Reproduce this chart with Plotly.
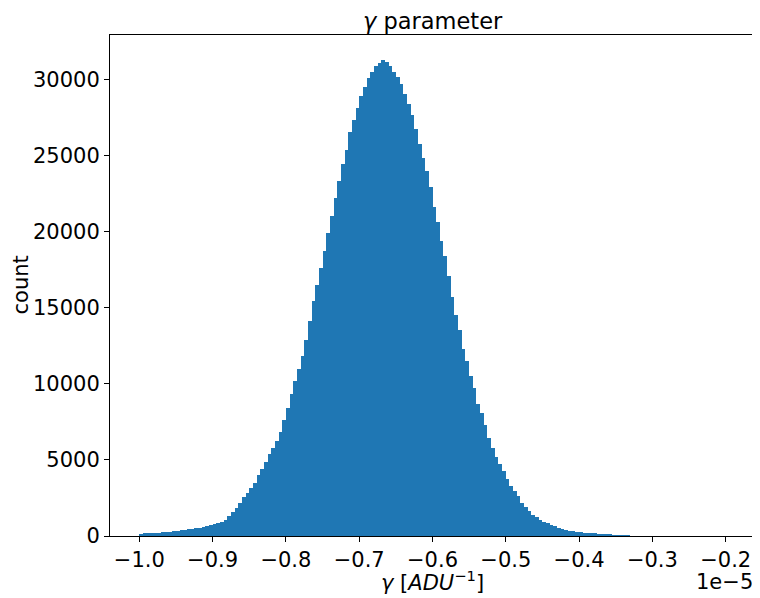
import plotly.graph_objects as go

# histogram counts, bins of width 0.005e-5 from -1.0e-5 to -0.2e-5 (x in units of 1e-5 ADU^-1)
counts = [
    150, 170, 190, 200, 210, 225, 240, 260, 285, 310,
    340, 370, 400, 440, 475, 510, 550, 590, 640, 700,
    770, 840, 930, 1080, 1300, 1580, 1850, 2200, 2550, 2850,
    3150, 3500, 4000, 4400, 4850, 5400, 5800, 6250, 6850, 7600,
    8400, 9300, 10200, 10950, 11800, 12900, 14100, 15400, 16500, 17600,
    18700, 19900, 21000, 22200, 23300, 24400, 25350, 26500, 27300, 28100,
    28900, 29500, 30050, 30450, 30850, 31050, 31250, 31150, 30850, 30500,
    30150, 29650, 29050, 28400, 27650, 26700, 25750, 24800, 23950, 22900,
    21600, 20600, 19400, 18400, 17100, 15700, 14500, 13500, 12300, 11500,
    10500, 9700, 8700, 8100, 7300, 6450, 5800, 5200, 4700, 4300,
    3750, 3300, 2950, 2600, 2200, 1900, 1650, 1400, 1220, 1070,
    930, 830, 720, 630, 550, 460, 410, 360, 310, 275,
    240, 215, 195, 180, 165, 150, 135, 110, 70, 45,
    30, 20, 15, 10, 0, 0, 0, 0, 0, 0,
    0, 0, 0, 0, 0, 0, 0, 0, 0, 0,
    0, 0, 0, 0, 0, 0, 0, 0, 0, 0,
]
bin_start = -1.0
bin_width = 0.005
bin_centers = [bin_start + bin_width * (i + 0.5) for i in range(len(counts))]

x_tick_vals = [-1.0, -0.9, -0.8, -0.7, -0.6, -0.5, -0.4, -0.3, -0.2]
x_tick_text = ["\u22121.0", "\u22120.9", "\u22120.8", "\u22120.7", "\u22120.6",
               "\u22120.5", "\u22120.4", "\u22120.3", "\u22120.2"]
y_tick_vals = [0, 5000, 10000, 15000, 20000, 25000, 30000]
y_tick_text = ["0", "5000", "10000", "15000", "20000", "25000", "30000"]

FONT = "DejaVu Sans"
FS = 21
FS_TITLE = 22.5
BLUE = "#1f77b4"

fig = go.Figure()
fig.add_trace(go.Bar(
    x=bin_centers, y=counts, width=bin_width,
    marker=dict(color=BLUE, line=dict(width=0)),
    showlegend=False, hoverinfo="x+y",
))

# page has an 8px body margin; figure spans page px 8..760 x 8..598
OFF = 8
W, H = 760 - OFF, 598 - OFF
L, R, T, B = 110 - OFF, 5, 35 - OFF, 62
PX0, PX1, PY0, PY1 = 110, 755, 35, 536  # plot area in page pixels

def py(ypx):
    return (PY1 - ypx) / (PY1 - PY0)

def px(xpx):
    return (xpx - PX0) / (PX1 - PX0)

fig.update_layout(
    width=W, height=H,
    margin=dict(l=L, r=R, t=T, b=B),
    paper_bgcolor="white", plot_bgcolor="white",
    bargap=0,
    font=dict(family=FONT, size=FS, color="black"),
    xaxis=dict(
        range=[-1.04, -0.16], tickmode="array",
        tickvals=x_tick_vals, ticktext=x_tick_text,
        ticks="outside", ticklen=5, tickwidth=1, tickcolor="black",
        showline=True, linecolor="black", linewidth=1, mirror=True,
        showgrid=False, zeroline=False,
        tickfont=dict(family=FONT, size=FS, color="black"),
    ),
    yaxis=dict(
        range=[0, 32900], tickmode="array",
        tickvals=y_tick_vals, ticktext=y_tick_text,
        ticks="outside", ticklen=5, tickwidth=1, tickcolor="black",
        showline=True, linecolor="black", linewidth=1, mirror=True,
        showgrid=False, zeroline=False,
        tickfont=dict(family=FONT, size=FS, color="black"),
    ),
    annotations=[
        dict(text="<i>\u03b3</i> parameter", xref="paper", yref="paper",
             x=0.5, y=py(21), xanchor="center", yanchor="middle",
             showarrow=False, font=dict(family=FONT, size=FS_TITLE, color="black")),
        dict(text="<i>\u03b3</i> [<i>ADU</i><sup>\u22121</sup>]", xref="paper", yref="paper",
             x=0.5, y=py(581), xanchor="center", yanchor="middle",
             showarrow=False, font=dict(family=FONT, size=FS, color="black")),
        dict(text="1e\u22125", xref="paper", yref="paper",
             x=1.0, y=py(582), xanchor="right", yanchor="middle",
             showarrow=False, font=dict(family=FONT, size=FS, color="black")),
        dict(text="count", xref="paper", yref="paper",
             x=px(20), y=0.5, xanchor="center", yanchor="middle",
             textangle=-90, showarrow=False,
             font=dict(family=FONT, size=FS, color="black")),
    ],
)

fig.write_html("out.html")
